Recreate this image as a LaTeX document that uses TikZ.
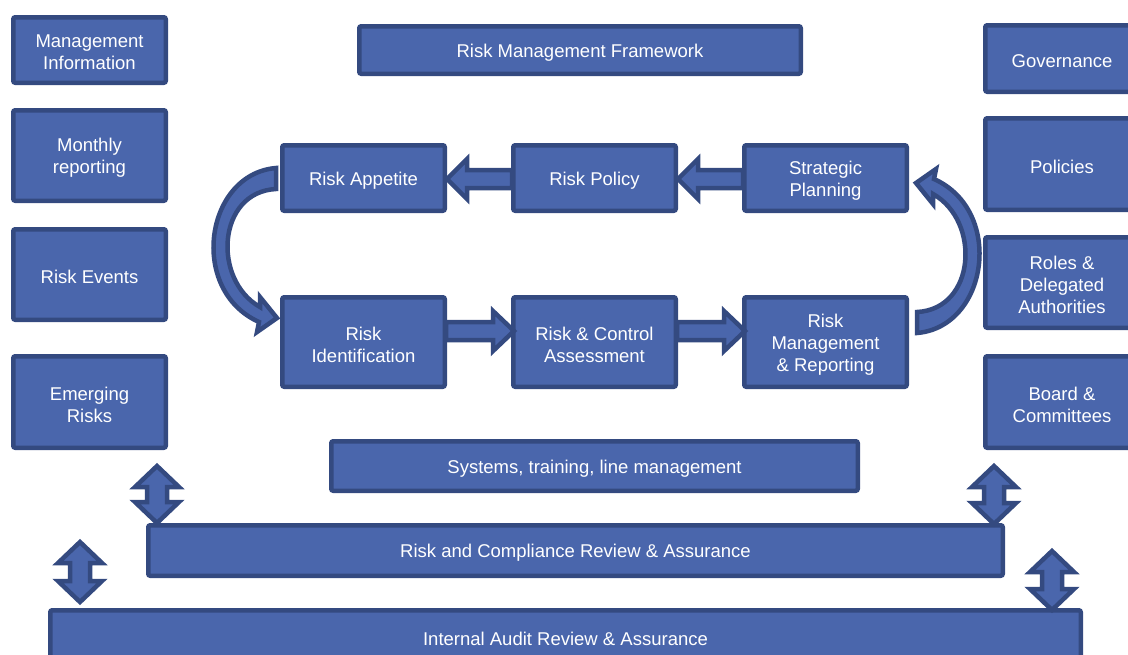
\documentclass[tikz,border=0pt]{standalone}
\usepackage{fontspec}
\setmainfont{Liberation Sans}
\definecolor{boxfill}{RGB}{74,102,172}
\definecolor{boxline}{RGB}{52,74,128}
\tikzset{
  box/.style={draw=boxline, fill=boxfill, line width=4.5pt, rounded corners=2pt, inner sep=0pt},
  boxtext/.style={text=white, align=center, inner sep=0pt,
    font=\fontsize{18.5}{22}\selectfont},
  blockarrow/.style={draw=boxline, fill=boxfill, line width=4.5pt, line join=miter},
}
\newcommand\mybox[6]{% name, cx, cy, w, h, text
  \node[box, minimum width=#4pt, minimum height=#5pt] (#1) at (#2,#3) {};
  \node[boxtext] (#1-t) at ([yshift=-2.5pt]#1.center) {#6};}
% double vertical block arrow: cx, top tip, bottom tip
\newcommand\dblarrow[3]{%
  \draw[blockarrow] (#1,#2) -- ({#1+22},{#2+21}) -- ({#1+10},{#2+21}) -- ({#1+10},{#3-21})
   -- ({#1+22},{#3-21}) -- (#1,#3) -- ({#1-22},{#3-21}) -- ({#1-10},{#3-21})
   -- ({#1-10},{#2+21}) -- ({#1-22},{#2+21}) -- cycle;}
% horizontal block arrow: cy, tip x, base x, shaft end x
\newcommand\harrow[4]{%
  \draw[blockarrow] (#2,#1) -- (#3,{#1-20}) -- (#3,{#1-9}) -- (#4,{#1-9})
   -- (#4,{#1+9}) -- (#3,{#1+9}) -- (#3,{#1+20}) -- cycle;}
\begin{document}
\begin{tikzpicture}[x=1pt,y=-1pt]
\useasboundingbox (0,0) rectangle (1128,654);
\clip (0,0) rectangle (1128,654);
% left column
\mybox{mi}{89.5}{50}{152.5}{65.5}{Management\\Information}
\mybox{mr}{89.5}{155.5}{152.5}{90.5}{Monthly\\reporting}
\mybox{re}{89.5}{274.5}{152.5}{90.5}{Risk Events}
\mybox{er}{89.5}{402}{152.5}{91.5}{Emerging\\Risks}
% right column
\mybox{gov}{1062}{58.5}{153.5}{66.5}{Governance}
\mybox{pol}{1062}{164}{153.5}{91.5}{Policies}
\mybox{rol}{1062}{282.5}{153.5}{90.5}{Roles \&\\Delegated\\Authorities}
\mybox{brd}{1062}{402}{153.5}{91.5}{Board \&\\Committees}
% top
\mybox{rmf}{580}{50}{441.5}{47.5}{Risk Management Framework}
% cycle
\mybox{ra}{363.5}{178}{162.5}{65.5}{Risk Appetite}
\mybox{rp}{594.5}{178}{162.5}{65.5}{Risk Policy}
\mybox{sp}{825.5}{178}{162.5}{65.5}{Strategic\\Planning}
\mybox{rid}{363.5}{342}{162.5}{89.5}{Risk\\Identification}
\mybox{rca}{594.5}{342}{162.5}{89.5}{Risk \& Control\\Assessment}
\mybox{rmr}{825.5}{342}{162.5}{89.5}{Risk\\Management\\\& Reporting}
% bottom bars
\mybox{sys}{594.5}{466}{526.5}{49.5}{Systems, training, line management}
\mybox{rcr}{575.5}{550.5}{854.5}{50.5}{Risk and Compliance Review \& Assurance}
\mybox{ia}{565.5}{636}{1030.5}{51.5}{Internal Audit Review \& Assurance}
% straight block arrows
\harrow{179}{447}{467}{512}
\harrow{179}{678}{698}{743}
\harrow{331}{514}{493}{446}
\harrow{331}{745}{724}{677}
% curved block arrows
\draw[blockarrow] (276,168) .. controls (205,174) and (188,290) .. (259,322)
  -- (257,332) -- (277,318) -- (260,297) -- (260,307)
  .. controls (212,280) and (217,192) .. (276,189) -- cycle;
\begin{scope}[rotate around={180:(596.5,250.5)}]
\draw[blockarrow] (276,168) .. controls (205,174) and (188,290) .. (259,322)
  -- (257,332) -- (277,318) -- (260,297) -- (260,307)
  .. controls (212,280) and (217,192) .. (276,189) -- cycle;
\end{scope}
% double arrows
\dblarrow{157}{466}{523}
\dblarrow{80}{542}{602}
\dblarrow{994}{466}{524}
\dblarrow{1052}{551}{610}
\end{tikzpicture}
\end{document}
